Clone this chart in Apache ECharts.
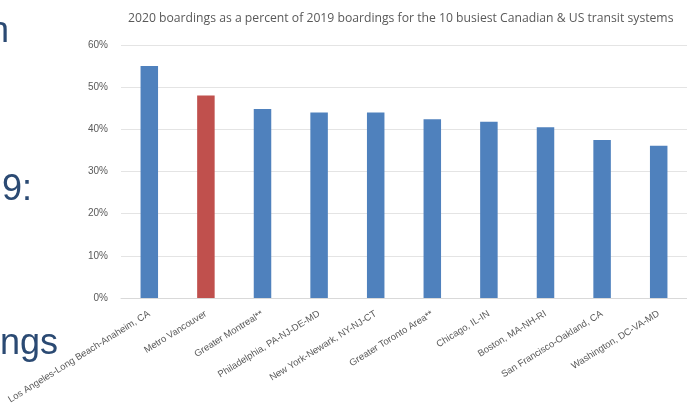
<!DOCTYPE html>
<html>
<head>
<meta charset="utf-8">
<script src="https://cdn.jsdelivr.net/npm/echarts@6/dist/echarts.min.js"></script>
<style>
  html, body { margin: 0; padding: 0; background: #fff; }
  #chart { width: 687px; height: 407px; }
</style>
</head>
<body>
<div id="chart"></div>
<script>
// 2020 boardings as % of 2019 boardings
const cities = [
  'Los Angeles-Long Beach-Anaheim, CA',
  'Metro Vancouver',
  'Greater Montreal**',
  'Philadelphia, PA-NJ-DE-MD',
  'New York-Newark, NY-NJ-CT',
  'Greater Toronto Area**',
  'Chicago, IL-IN',
  'Boston, MA-NH-RI',
  'San Francisco-Oakland, CA',
  'Washington, DC-VA-MD',
];
const pctValues = [55.0, 48.0, 44.8, 44.0, 44.0, 42.4, 41.8, 40.5, 37.5, 36.1];
const highlightCity = 'Metro Vancouver';
const yTicks = [0, 10, 20, 30, 40, 50, 60];

const chart = echarts.init(document.getElementById('chart'));

const barData = pctValues.map((v, i) => ({
  value: v,
  itemStyle: { color: cities[i] === highlightCity ? '#c0504d' : '#4f81bd' },
}));

chart.setOption({
  animation: false,
  title: {
    text: '2020 boardings as a percent of 2019 boardings for the 10 busiest Canadian & US transit systems',
    left: 123,
    top: 8,
    textStyle: {
      color: '#595959',
      fontSize: 12.2,
      fontWeight: 'normal',
      fontFamily: 'Open Sans',
    },
  },
  // bits of the slide text that sit behind the chart
  graphic: [
    { type: 'text', left: -11, top: 14, style: { text: 'n', fill: '#2b4a73', fontSize: 36, fontFamily: 'Liberation Sans' } },
    { type: 'text', left: 2, top: 172, style: { text: '9:', fill: '#2b4a73', fontSize: 36, fontFamily: 'Liberation Sans' } },
    { type: 'text', left: 0, top: 326, style: { text: 'ngs', fill: '#2b4a73', fontSize: 36, fontFamily: 'Liberation Sans' } },
  ],
  grid: {
    left: 121,
    right: -1,
    top: 45,
    bottom: 109,
    containLabel: false,
  },
  xAxis: {
    type: 'category',
    data: cities,
    axisLine: { show: true, lineStyle: { color: '#d9d9d9', width: 1 } },
    axisTick: { show: false },
    axisLabel: {
      interval: 0,
      rotate: 32,
      margin: 15,
      color: '#595959',
      fontSize: 9.5,
      fontFamily: 'Liberation Sans',
    },
  },
  yAxis: {
    type: 'value',
    min: yTicks[0],
    max: yTicks[yTicks.length - 1],
    interval: 10,
    axisLine: { show: false },
    axisTick: { show: false },
    splitLine: { lineStyle: { color: '#e4e4e4', width: 1 } },
    axisLabel: {
      formatter: '{value}%',
      margin: 13,
      color: '#595959',
      fontSize: 10,
      fontFamily: 'Liberation Sans',
    },
  },
  series: [
    {
      type: 'bar',
      barWidth: 17.5,
      data: barData,
    },
  ],
});
</script>
</body>
</html>
